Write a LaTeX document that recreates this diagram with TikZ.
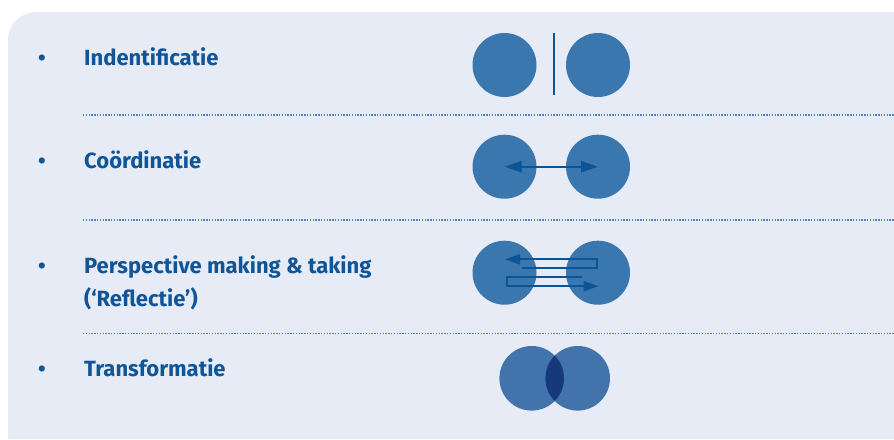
\documentclass[tikz,border=0pt]{standalone}
\usepackage{fontspec}
\setmainfont{Fira Sans}
\usetikzlibrary{arrows.meta}
\definecolor{panelbg}{HTML}{E6EBF5}
\definecolor{txtblue}{HTML}{0F5597}
\definecolor{circblue}{HTML}{3A77AF}
\definecolor{arrblue}{HTML}{0B5496}
\definecolor{venncirc}{HTML}{4373AB}
\definecolor{venndark}{HTML}{15397A}
\definecolor{dotblue}{HTML}{4F86C0}
\begin{document}
\begin{tikzpicture}[x=1pt,y=-1pt,
  lbl/.style={anchor=base west,inner sep=0pt,text=txtblue,font=\fontsize{22}{26}\selectfont\bfseries},
  bul/.style={anchor=base,inner sep=0pt,text=txtblue,font=\fontsize{22}{26}\selectfont\bfseries},
  sep/.style={draw=dotblue,line width=1.3pt,dash pattern=on 1.4pt off 1.4pt},
  disc/.style={circle,fill=circblue,minimum size=64pt,inner sep=0pt},
  vdisc/.style={circle,fill=venncirc,minimum size=64.6pt,inner sep=0pt},
  arr/.style={draw=arrblue,line width=2.2pt,-{Triangle[length=17pt,width=11pt]}},
  arrs/.style={draw=arrblue,line width=2pt,-{Triangle[length=15pt,width=10pt]}}
]
\useasboundingbox (0,0) rectangle (894,439);
% panel
\fill[panelbg] (894,12) -- (36,12) arc[start angle=270,end angle=180,radius=28] -- (8,439) -- (894,439) -- cycle;

% labels
\node[bul] (b1) at (42,65) {•};
\node[lbl] (t1) at (84,65) {Indentificatie};
\node[bul] (b2) at (42,168.5) {•};
\node[lbl] (t2) at (84,168.5) {Coördinatie};
\node[bul] (b3) at (42,273.5) {•};
\node[lbl] (t3) at (84,273.5) {Perspective making \& taking};
\node[lbl] (t3b) at (84,306.5) {(‘Reflectie’)};
\node[bul] (b4) at (42,376.7) {•};
\node[lbl] (t4) at (84,376.7) {Transformatie};

% separators
\coordinate (s1a) at (83,115); \coordinate (s1b) at (894,115);
\coordinate (s2a) at (83,220); \coordinate (s2b) at (894,220);
\coordinate (s3a) at (83,333.5); \coordinate (s3b) at (894,333.5);
\draw[sep] (s1a) -- (s1b);
\draw[sep] (s2a) -- (s2b);
\draw[sep] (s3a) -- (s3b);

% 1 identification
\node[disc] (i1) at (504.5,65) {};
\node[disc] (i2) at (598,65) {};
\coordinate (v1) at (553.7,33); \coordinate (v2) at (553.7,95);
\draw[arrblue,line width=2.2pt] (v1) -- (v2);

% 2 coordination
\node[disc] (c1) at (504.5,166.7) {};
\node[disc] (c2) at (598,166.7) {};
\draw[arr,{Triangle[length=17pt,width=11pt]}-{Triangle[length=17pt,width=11pt]}] (c1.center) -- (c2.center);

% 3 perspective
\node[disc] (p1) at (504.5,272.7) {};
\node[disc] (p2) at (598,272.7) {};
\coordinate (u0) at (522,267.5); \coordinate (u1) at (597,267.5);
\coordinate (u2) at (597,259.3); \coordinate (u3) at (505,259.3);
\draw[arrs] (u0) -- (u1) -- (u2) -- (u3);
\coordinate (l0) at (582,276.8); \coordinate (l1) at (507.2,276.8);
\coordinate (l2) at (507.2,286.2); \coordinate (l3) at (598.5,286.2);
\draw[arrs] (l0) -- (l1) -- (l2) -- (l3);

% 4 transformation
\node[vdisc] (r1) at (531.7,378.3) {};
\node[vdisc] (r2) at (577.7,378.3) {};
\begin{scope}
  \clip (531.7,378.3) circle[radius=32.3];
  \fill[venndark] (577.7,378.3) circle[radius=32.3];
\end{scope}
\end{tikzpicture}
\end{document}
